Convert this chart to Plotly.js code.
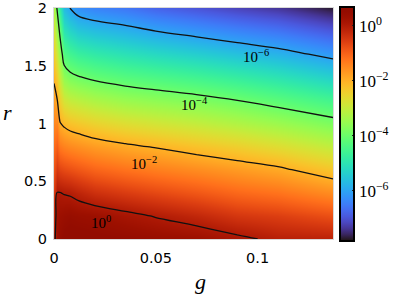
<!DOCTYPE html>
<html>
<head>
<meta charset="utf-8">
<script src="https://cdn.plot.ly/plotly-3.0.1.min.js"></script>
<style>html,body{margin:0;padding:0;background:#fff;overflow:hidden;}#chart{width:420px;height:296px;}</style>
</head>
<body>
<div id="chart"></div>
<script>
// g values (x nodes)
const gValues = [0, 0.0015, 0.003, 0.005, 0.008, 0.012, 0.02, 0.035, 0.05, 0.07, 0.09, 0.11, 0.137];
// r values (y nodes)
const rValues = [0, 0.2, 0.4, 0.6, 0.8, 1.0, 1.2, 1.4, 1.6, 1.8, 2.0];
// log10 of the plotted quantity, one row per r value, one column per g value
const logValues = [
  [-0.20,  0.30,  0.45,  0.55,  0.60,  0.60,  0.55,  0.48,  0.40,  0.30,  0.10, -0.10, -0.15],
  [-0.35,  0.20,  0.30,  0.35,  0.40,  0.35,  0.30,  0.13, -0.03, -0.23, -0.47, -0.58, -0.80],
  [-0.55,  0.02,  0.01, -0.03, -0.07, -0.18, -0.37, -0.54, -0.70, -0.89, -1.10, -1.24, -1.55],
  [-0.85, -0.50, -0.65, -0.72, -0.79, -0.88, -1.05, -1.22, -1.37, -1.54, -1.72, -1.90, -2.30],
  [-1.15, -0.98, -1.31, -1.41, -1.50, -1.58, -1.73, -1.90, -2.04, -2.24, -2.43, -2.67, -3.05],
  [-1.47, -1.46, -1.97, -2.11, -2.24, -2.33, -2.49, -2.69, -2.84, -3.02, -3.22, -3.45, -3.80],
  [-1.78, -1.95, -2.51, -2.87, -3.04, -3.14, -3.31, -3.51, -3.64, -3.80, -4.00, -4.24, -4.57],
  [-2.08, -2.46, -3.05, -3.62, -3.84, -3.96, -4.12, -4.30, -4.43, -4.60, -4.80, -5.02, -5.37],
  [-2.45, -2.97, -3.60, -4.35, -4.57, -4.73, -4.88, -5.06, -5.22, -5.40, -5.60, -5.80, -6.16],
  [-2.85, -3.49, -4.17, -5.03, -5.29, -5.50, -5.65, -5.81, -6.00, -6.20, -6.40, -6.59, -6.95],
  [-3.30, -4.05, -4.90, -5.70, -6.02, -6.27, -6.42, -6.57, -6.80, -7.00, -7.20, -7.37, -7.74]
];
// contour levels (log10) and their labels
const contourLevels = [0, -2, -4, -6];
const contourLabels = ['10<sup>0</sup>', '10<sup>\u22122</sup>', '10<sup>\u22124</sup>', '10<sup>\u22126</sup>'];
// label anchor positions [g, r]
const labelG = [0.023, 0.044, 0.069, 0.099];
const labelR = [0.145, 0.655, 1.165, 1.585];
// colorbar ticks
const cbTickVals = [0, -2, -4, -6];
const cbTickText = ['10<sup>0</sup>', '10<sup>\u22122</sup>', '10<sup>\u22124</sup>', '10<sup>\u22126</sup>'];
// axis ticks
const xTickVals = [0, 0.05, 0.1];
const xTickText = ['0', '0.05', '0.1'];
const yTickVals = [0, 0.5, 1, 1.5, 2];
const yTickText = ['0', '0.5', '1', '1.5', '2'];

// Turbo colour map (style)
function turbo(t) {
  const r = 34.61 + t * (1172.33 - t * (10793.56 - t * (33300.12 - t * (38394.49 - t * 14825.05))));
  const g = 23.31 + t * (557.33 + t * (1225.33 - t * (3574.96 - t * (1073.77 + t * 707.56))));
  const b = 27.2 + t * (3211.1 - t * (15327.97 - t * (27814 - t * (22569.18 - t * 6838.66))));
  const c = v => Math.max(0, Math.min(255, Math.round(v)));
  return 'rgb(' + c(r) + ',' + c(g) + ',' + c(b) + ')';
}
const turboScale = [];
for (let i = 0; i <= 40; i++) turboScale.push([i / 40, turbo(i / 40)]);

const serif = 'Liberation Serif, Times New Roman, serif';
const sans = 'DejaVu Sans, sans-serif';

const heat = {
  type: 'heatmap',
  x: gValues, y: rValues, z: logValues,
  zsmooth: 'best',
  colorscale: turboScale,
  zmin: -7.8, zmax: 0.7,
  hoverinfo: 'skip',
  colorbar: {
    x: 1.025, xanchor: 'left', xpad: 0,
    y: 0.5, yanchor: 'middle', len: 1.013, ypad: 0,
    thickness: 14,
    outlinewidth: 2, outlinecolor: '#000',
    tickvals: cbTickVals, ticktext: cbTickText,
    ticks: 'inside', ticklen: 3, tickwidth: 1, tickcolor: '#222',
    tickfont: {family: serif, size: 17, color: '#000'}
  }
};
const lines = {
  type: 'contour',
  x: gValues, y: rValues, z: logValues,
  showscale: false,
  hoverinfo: 'skip',
  autocontour: false,
  contours: {start: -6, end: 0, size: 2, coloring: 'none', showlabels: false},
  line: {color: '#111', width: 1.3, smoothing: 1}
};

const annotations = contourLevels.map((lv, i) => ({
  x: labelG[i], y: labelR[i], xref: 'x', yref: 'y',
  text: contourLabels[i], showarrow: false,
  xanchor: 'center', yanchor: 'middle',
  font: {family: serif, size: 15, color: '#000'}
}));
annotations.push({
  x: -0.165, y: 0.548, xref: 'paper', yref: 'paper', text: '<i>r</i>', showarrow: false,
  xanchor: 'center', yanchor: 'middle', font: {family: serif, size: 22, color: '#000'}
});
annotations.push({
  x: 0.525, y: -0.185, xref: 'paper', yref: 'paper', text: '<i>g</i>', showarrow: false,
  xanchor: 'center', yanchor: 'middle', font: {family: serif, size: 22, color: '#000'}
});

const layout = {
  width: 420, height: 296,
  margin: {l: 54, r: 87, t: 6, b: 57},
  paper_bgcolor: '#fff', plot_bgcolor: '#fff',
  showlegend: false,
  xaxis: {
    range: [0, 0.137], tickvals: xTickVals, ticktext: xTickText,
    showgrid: false, zeroline: false, ticks: '', ticklabelstandoff: 6,
    ticklabeloverflow: 'allow',
    showline: true, mirror: true, linecolor: '#d8d8d8', linewidth: 1,
    tickfont: {family: sans, size: 14.5, color: '#000'}
  },
  yaxis: {
    range: [0, 2], tickvals: yTickVals, ticktext: yTickText,
    showgrid: false, zeroline: false, ticks: '', ticklabelstandoff: 3,
    ticklabeloverflow: 'allow',
    showline: true, mirror: true, linecolor: '#d8d8d8', linewidth: 1,
    tickfont: {family: sans, size: 14.5, color: '#000'}
  },
  annotations: annotations
};

Plotly.newPlot('chart', [heat, lines], layout, {displayModeBar: false, staticPlot: true});
</script>
</body>
</html>
